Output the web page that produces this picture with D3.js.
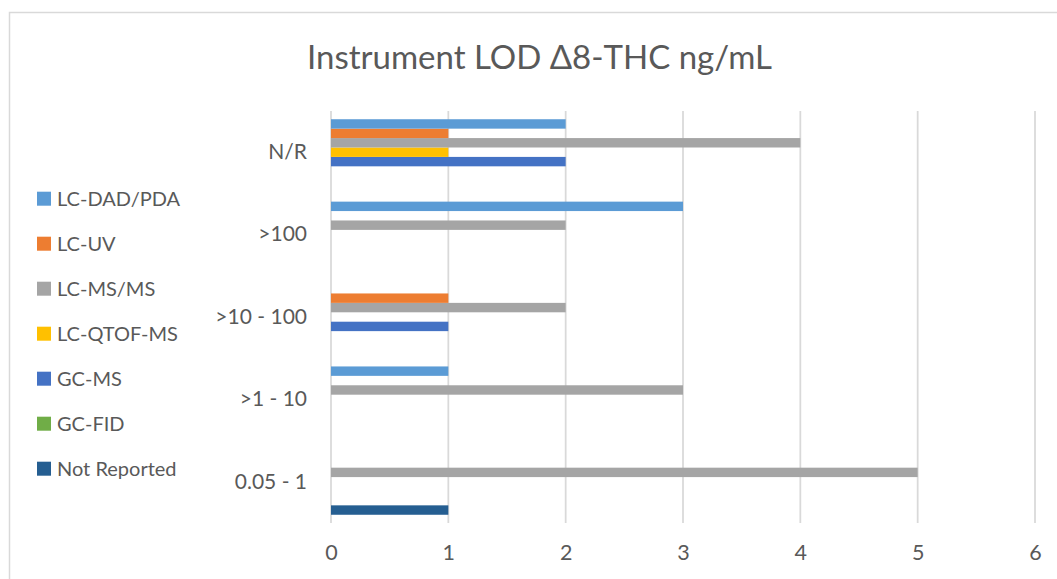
<!DOCTYPE html>
<html>
<head>
<meta charset="utf-8">
<script src="https://cdn.jsdelivr.net/npm/d3@7"></script>
<style>
  html, body { margin: 0; padding: 0; background: #ffffff; }
  svg { display: block; }
  text { font-family: Lato, "Open Sans", sans-serif; fill: #595959; }
</style>
</head>
<body>
<svg id="chart" width="1057" height="579"></svg>
<script>
// LOD ranges (category axis, bottom to top)
const categories = ["0.05 - 1", ">1 - 10", ">10 - 100", ">100", "N/R"];

// Instrument types, in plotting order (bottom bar of each group first)
const seriesNames = ["Not Reported", "GC-FID", "GC-MS", "LC-QTOF-MS", "LC-MS/MS", "LC-UV", "LC-DAD/PDA"];
const seriesColors = ["#255E91", "#70AD47", "#4472C4", "#FFC000", "#A5A5A5", "#ED7D31", "#5B9BD5"];

// Counts per category, one array per instrument type
const notReported = [1, 0, 0, 0, 0];
const gcFid       = [0, 0, 0, 0, 0];
const gcMs        = [0, 0, 1, 0, 2];
const lcQtofMs    = [0, 0, 0, 0, 1];
const lcMsMs      = [5, 3, 2, 2, 4];
const lcUv        = [0, 0, 1, 0, 1];
const lcDadPda    = [0, 1, 0, 3, 2];

const xTicks = [0, 1, 2, 3, 4, 5, 6];
const titleText = "Instrument LOD Δ8-THC ng/mL";

const seriesValues = [notReported, gcFid, gcMs, lcQtofMs, lcMsMs, lcUv, lcDadPda];

const svg = d3.select("#chart");

// chart area frame
svg.append("rect")
  .attr("x", 9.5).attr("y", 12.5)
  .attr("width", 1100).attr("height", 600)
  .attr("fill", "#ffffff")
  .attr("stroke", "#d9d9d9")
  .attr("stroke-width", 1.5);

const plot = { left: 331, right: 1035, top: 111, bottom: 523 };

const x = d3.scaleLinear().domain([0, 6]).range([plot.left, plot.right]);

const y = d3.scaleBand()
  .domain(categories)
  .range([plot.bottom, plot.top])
  .paddingInner(0.2)
  .paddingOuter(0.1);

const yInner = d3.scaleBand()
  .domain(seriesNames)
  .range([y.bandwidth(), 0]);

// vertical gridlines
svg.append("g")
  .selectAll("line")
  .data(xTicks)
  .join("line")
  .attr("x1", d => x(d)).attr("x2", d => x(d))
  .attr("y1", plot.top).attr("y2", plot.bottom)
  .attr("stroke", "#d9d9d9")
  .attr("stroke-width", 1.75);

// x tick labels via the axis generator
const xAxis = svg.append("g")
  .attr("transform", `translate(0,${plot.bottom})`)
  .call(d3.axisBottom(x).tickValues(xTicks).tickSize(0).tickPadding(22).tickFormat(d3.format("d")));
xAxis.select(".domain").remove();
xAxis.selectAll("text")
  .attr("font-size", 21.5)
  .attr("font-family", "Lato, 'Open Sans', sans-serif")
  .attr("fill", "#595959");

// category labels via the axis generator
const yAxis = svg.append("g")
  .attr("transform", `translate(${plot.left},0)`)
  .call(d3.axisLeft(y).tickSize(0).tickPadding(24));
yAxis.select(".domain").remove();
yAxis.selectAll("text")
  .attr("font-size", 21)
  .attr("font-family", "Lato, 'Open Sans', sans-serif")
  .attr("fill", "#595959");

// bars
const barData = [];
seriesNames.forEach((s, si) => {
  categories.forEach((c, ci) => {
    barData.push({ series: s, category: c, value: seriesValues[si][ci], color: seriesColors[si] });
  });
});

svg.append("g")
  .selectAll("rect")
  .data(barData.filter(d => d.value > 0))
  .join("rect")
  .attr("x", x(0))
  .attr("y", d => y(d.category) + yInner(d.series))
  .attr("width", d => x(d.value) - x(0))
  .attr("height", yInner.bandwidth())
  .attr("fill", d => d.color);

// title
svg.append("text")
  .attr("x", 539.5)
  .attr("y", 69)
  .attr("text-anchor", "middle")
  .attr("font-size", 33)
  .text(titleText);

// legend (top entry is the last series)
const legendItems = seriesNames.map((s, i) => ({ name: s, color: seriesColors[i] })).reverse();
const legend = svg.append("g");
const legendRow = legend.selectAll("g")
  .data(legendItems)
  .join("g")
  .attr("transform", (d, i) => `translate(37,${198.7 + i * 45})`);
legendRow.append("rect")
  .attr("x", 0).attr("y", -7)
  .attr("width", 14).attr("height", 14)
  .attr("fill", d => d.color);
legendRow.append("text")
  .attr("x", 20)
  .attr("y", 0)
  .attr("dy", "0.35em")
  .attr("font-size", 20)
  .text(d => d.name);
</script>
</body>
</html>
